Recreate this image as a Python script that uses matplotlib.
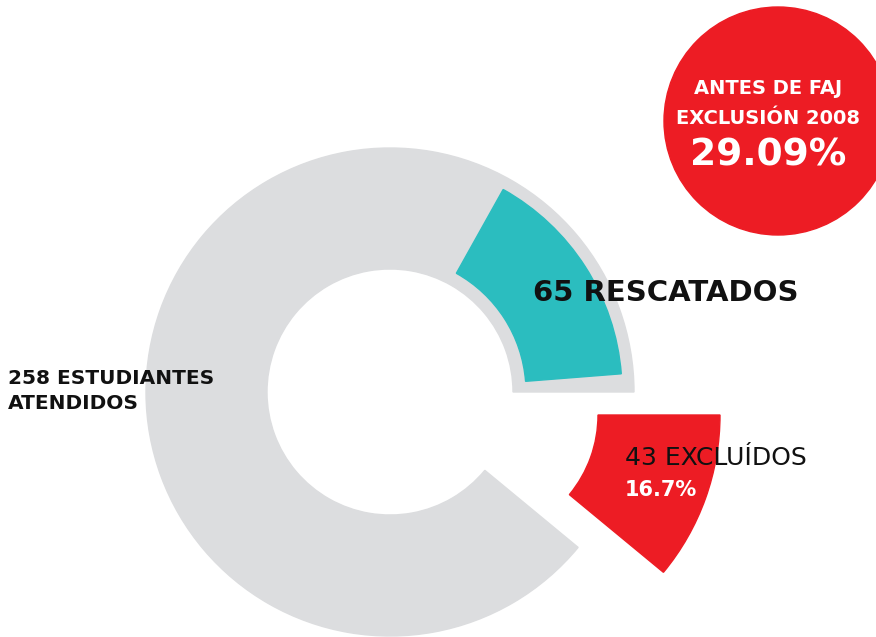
import matplotlib
matplotlib.use("Agg")
import matplotlib.pyplot as plt
from matplotlib.patches import Wedge, Circle

# Datos
total_atendidos = 258
rescatados = 65
excluidos = 43
pct_excluidos = 16.7
pct_antes = 29.09

etiqueta_total = "258 ESTUDIANTES\nATENDIDOS"
etiqueta_rescatados = "65 RESCATADOS"
etiqueta_excluidos = "43 EXCLUÍDOS"
etiqueta_circulo = ["ANTES DE FAJ", "EXCLUSIÓN 2008"]

GRIS = "#dcdddf"
TURQUESA = "#2bbdbf"
ROJO = "#ed1c24"

W, H = 876, 637
fig = plt.figure(figsize=(W / 100, H / 100), dpi=100)
ax = fig.add_axes([0, 0, 1, 1])
ax.set_xlim(0, W)
ax.set_ylim(0, H)
ax.set_aspect("equal")
ax.axis("off")

# escala del dibujo (grados por estudiante)
escala = 0.92
ang_exc = excluidos * escala
ang_res = rescatados * escala

cx, cy = 390, H - 392

# anillo gris (todos menos los excluidos)
ax.add_patch(Wedge((cx, cy), 244, 0, 360 - ang_exc, width=121, color=GRIS))
# rescatados
ax.add_patch(Wedge((cx, cy), 232, 4.5, ang_res + 1, width=96, color=TURQUESA))
# excluidos, separado
ax.add_patch(Wedge((cx + 83, cy - 23), 247, -ang_exc, 0, width=122, color=ROJO))

# circulo rojo
ax.add_patch(Circle((778, H - 121), 114, color=ROJO))
fuente = "DejaVu Sans"
ax.text(768, H - 89, etiqueta_circulo[0], ha="center", va="center",
        color="white", fontsize=14, fontweight="bold", family=fuente)
ax.text(768, H - 118, etiqueta_circulo[1], ha="center", va="center",
        color="white", fontsize=14, fontweight="bold", family=fuente)
ax.text(768, H - 155, f"{pct_antes:.2f}%", ha="center", va="center",
        color="white", fontsize=27, fontweight="bold", family=fuente)

ax.text(533, H - 293, etiqueta_rescatados, ha="left", va="center",
        color="#111111", fontsize=21, fontweight="bold", family=fuente)
ax.text(8, H - 391, etiqueta_total, ha="left", va="center",
        color="#111111", fontsize=14.5, fontweight="bold", family=fuente,
        linespacing=1.45)
ax.text(625, H - 458, etiqueta_excluidos, ha="left", va="center",
        color="#111111", fontsize=18, family=fuente)
ax.text(625, H - 490, f"{pct_excluidos}%", ha="left", va="center",
        color="white", fontsize=15, fontweight="bold", family=fuente)

fig.savefig("out.png", dpi=100, facecolor="white")
